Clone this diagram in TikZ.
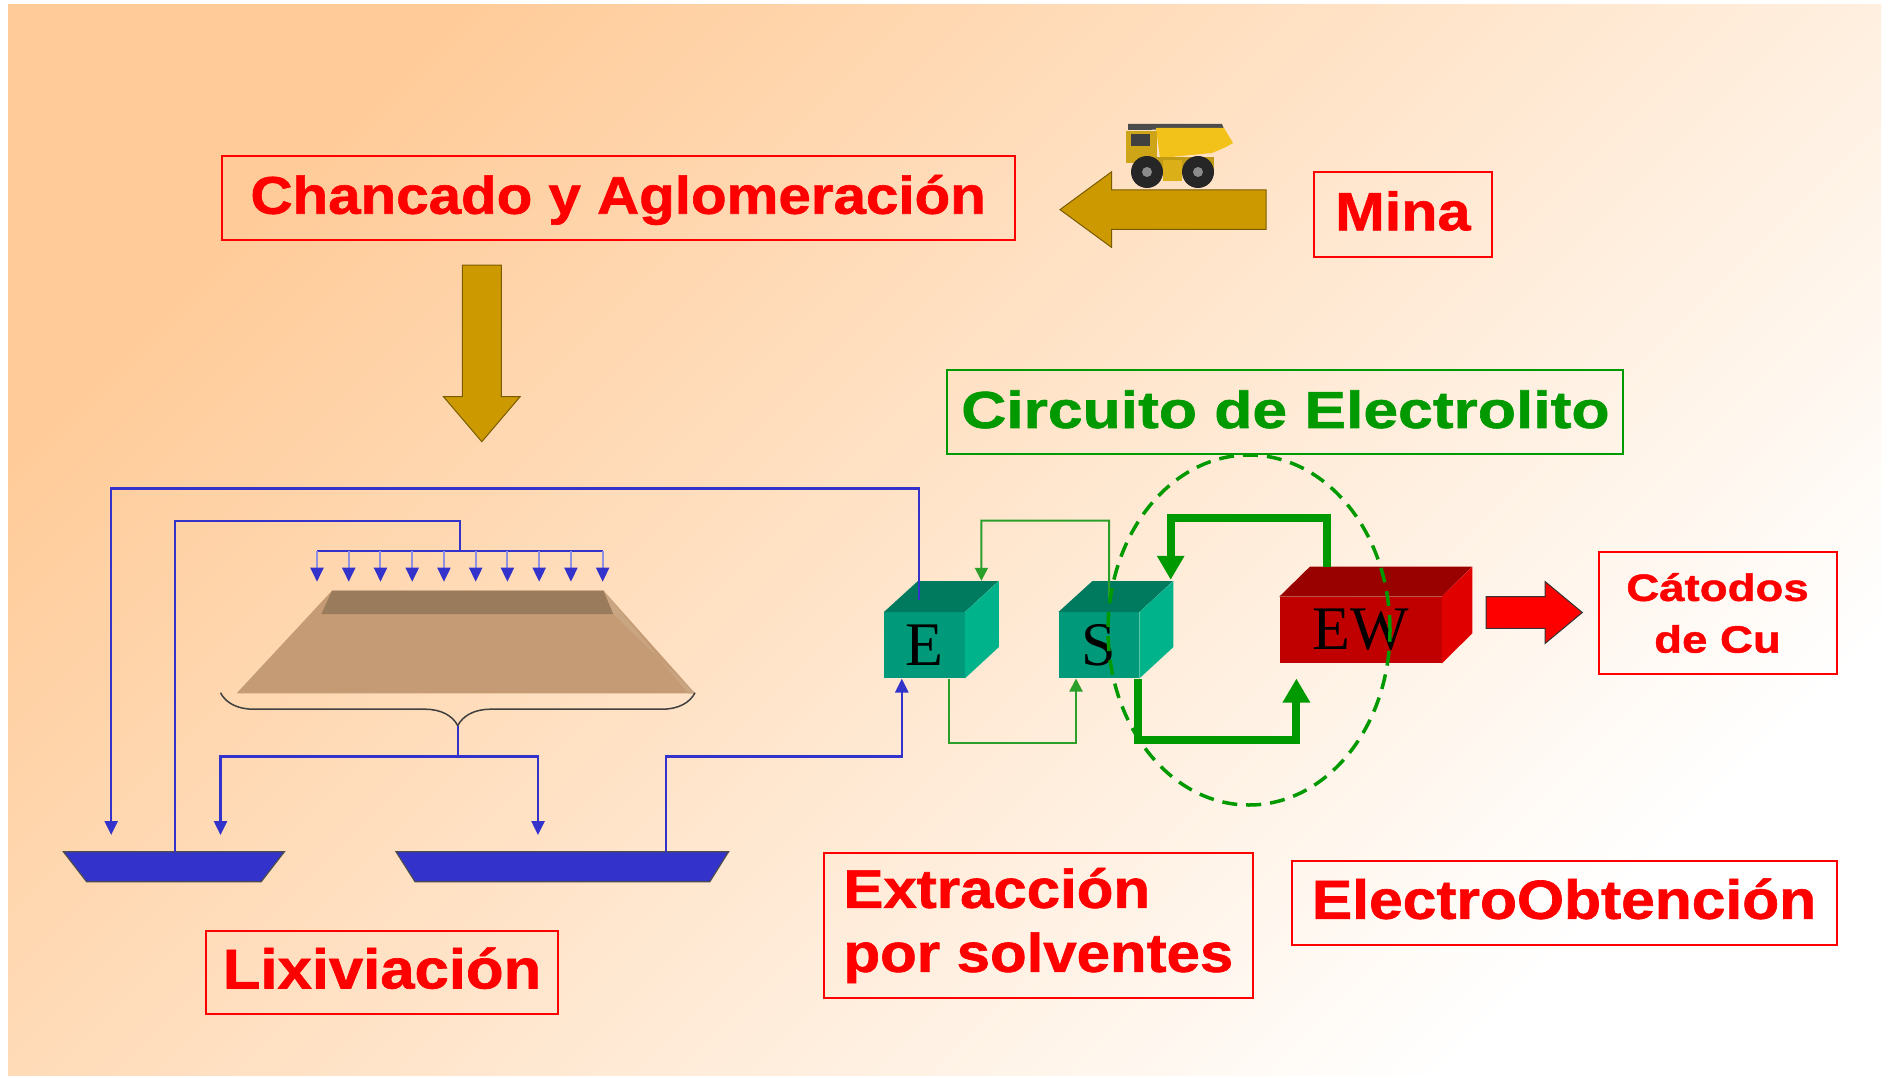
\documentclass[tikz,border=0pt]{standalone}
\usepackage{fontspec}
\usetikzlibrary{arrows.meta,decorations.pathreplacing}
\newfontfamily\boxfont{Liberation Sans}[FakeStretch=1.1,BoldFeatures={FakeBold=1.2}]
\newfontfamily\widefont{Liberation Sans}[FakeStretch=1.2,BoldFeatures={FakeBold=1.2}]
\newfontfamily\cubefont{Liberation Serif}
\definecolor{rojo}{HTML}{FF0000}
\definecolor{verde}{HTML}{009900}
\definecolor{verdeclaro}{HTML}{2A9F2A}
\definecolor{azul}{HTML}{3333CC}
\definecolor{oro}{HTML}{CC9900}
\definecolor{orobrd}{HTML}{7A5C00}
\definecolor{durazno}{HTML}{FFCB98}
\definecolor{fondoM}{HTML}{FFE5CE}
\definecolor{tealF}{HTML}{00997A}
\definecolor{tealT}{HTML}{007A5F}
\definecolor{tealR}{HTML}{00B38A}
\definecolor{ewF}{HTML}{C00000}
\definecolor{ewT}{HTML}{990000}
\definecolor{ewR}{HTML}{E00000}
\definecolor{tierra}{HTML}{C49B74}
\definecolor{tierraT}{HTML}{9A7B5C}
\definecolor{amarillo}{HTML}{F2C21B}
\begin{document}
\begin{tikzpicture}[x=1pt,y=-1pt,
    caja/.style={draw=rojo,line width=2pt,text=rojo,inner sep=0pt,font=\boxfont\bfseries\fontsize{54}{64}\selectfont},
    linea/.style={text height=38pt,text depth=6.5pt},
    cubo/.style={rectangle,fill=tealF,inner sep=0pt,minimum width=80.6pt,minimum height=66pt,font=\cubefont\fontsize{62}{62}\selectfont},
    flujo/.style={azul,line width=2.5pt,-{Triangle[length=14pt,width=13pt]}},
    delgado/.style={verdeclaro,line width=2pt,-{Triangle[length=13pt,width=13pt]}},
    grueso/.style={verde,line width=8pt,-{Triangle[length=24pt,width=26pt]}}]
  % fondo
  \fill[white] (0,0) rectangle (1889,1078);
  \shade[top color=durazno,middle color=fondoM,bottom color=white,shading angle=45] (8,5) rectangle (1881,1075);
  \useasboundingbox (0,0) rectangle (1889,1078);
  % cajas
  \node[caja,linea,font=\boxfont\bfseries\fontsize{53}{64}\selectfont,minimum width=793pt,minimum height=84pt] (chancado) at (618.2,198) {Chancado y Aglomeración};
  \node[caja,linea,minimum width=178pt,minimum height=84pt] (mina) at (1402.9,214.5) {Mina};
  \node[caja,linea,draw=verde,text=verde,font=\widefont\bfseries\fontsize{52}{64}\selectfont,minimum width=676pt,minimum height=84pt] (circuito) at (1285.4,412.2) {Circuito de Electrolito};
  \node[caja,align=center,font=\widefont\bfseries\fontsize{38}{51.7}\selectfont,minimum width=238pt,minimum height=122.6pt] (catodos) at (1717.5,613) {Cátodos\\de Cu};
  \node[caja,linea,font=\boxfont\bfseries\fontsize{56}{64}\selectfont,minimum width=352pt,minimum height=83pt] (lixiviacion) at (382,972.7) {Lixiviación};
  \node[caja,align=left,font=\boxfont\bfseries\fontsize{54.5}{64}\selectfont,minimum width=429pt,minimum height=145.6pt] (extraccion) at (1038.4,925.5) {Extracción\\por solventes};
  \node[caja,linea,font=\boxfont\bfseries\fontsize{55}{64}\selectfont,minimum width=545pt,minimum height=84.6pt] (electro) at (1564,903) {ElectroObtención};
  % flechas anchas
  \filldraw[fill=oro,draw=orobrd,line width=1pt] (1266,190)--(1111.7,190)--(1111.7,171.7)--(1060,209.6)--(1111.7,247.5)--(1111.7,229.3)--(1266,229.3)--cycle;
  \filldraw[fill=oro,draw=orobrd,line width=1pt] (462.3,265)--(462.3,396.7)--(443.5,396.7)--(481.8,441.7)--(520.1,396.7)--(501.4,396.7)--(501.4,265)--cycle;
  % camion
  \fill[black!70] (1128,124)--(1222,124)--(1224,129)--(1128,130)--cycle;
  \fill[amarillo] (1156,128)--(1224,128)--(1233,143)--(1226,147)--(1212,153)--(1160,158)--cycle;
  \fill[amarillo!85!black] (1126,131) rectangle (1157,163);
  \fill[black!75] (1131,134) rectangle (1150,146);
  \fill[amarillo!80!black] (1138,157) rectangle (1214,172);
  \fill[amarillo!90!black] (1163,160) rectangle (1182,181);
  \foreach \w in {1147,1198}{
    \fill[black!85] (\w,172) circle (16pt);
    \fill[black!45] (\w,172) circle (5pt);
  }
  % pila de lixiviacion
  \fill[tierra] (236.6,693.3)--(332,590.7)--(603.6,590.7)--(695,693.3)--cycle;
  \fill[tierraT] (332,590.7)--(603.6,590.7)--(613.4,614)--(321.4,614)--cycle;
  \fill[tierra!90!white] (603.6,590.7)--(613.4,614)--(695,693.3)--(688,693.3)--cycle;
  \draw[black!75,line width=1.5pt,decorate,decoration={brace,amplitude=33pt}] (695,692.7)--(220.5,692.7);
  \coordinate (llave) at (457.8,726);
  \coordinate (reparto) at (457.8,756.7);
  % piscinas
  \filldraw[fill=azul,draw=black!70,line width=1.2pt] (63.4,851.7)--(284.4,851.7)--(261.2,881.7)--(86.6,881.7)--cycle;
  \filldraw[fill=azul,draw=black!70,line width=1.2pt] (396,851.7)--(728.6,851.7)--(709.8,881.7)--(415,881.7)--cycle;
  \coordinate (entraA) at (111.2,835);
  \coordinate (saleA) at (175,851.7);
  \coordinate (entraA2) at (220.5,835);
  \coordinate (entraB) at (538,835);
  \coordinate (saleB) at (666,851.7);
  \coordinate (riego) at (459.8,551);
  % cubos E, S y EW
  \foreach \n/\x in {E/924.3,S/1098.8}{
    \node[cubo] (\n) at (\x,645.3) {\n};
    \fill[tealT] (\n.north west)--++(34,-31)--++(80.6,0)--(\n.north east)--cycle;
    \fill[tealR] (\n.north east)--++(34,-31)--++(0,66)--(\n.south east)--cycle;
  }
  \node[cubo,fill=ewF,minimum width=162pt,minimum height=66.6pt] (EW) at (1360.65,630) {EW};
  \fill[ewT] (EW.north west)--++(30.6,-30)--++(162,0)--(EW.north east)--cycle;
  \fill[ewR] (EW.north east)--++(30.6,-30)--++(0,66.6)--(EW.south east)--cycle;
  % riego
  \draw[azul,line width=2.5pt] (317,551)--(602.7,551);
  \foreach \i in {0,...,9}
    \draw[azul!55,line width=2pt,-{Triangle[length=14pt,width=13pt,color=azul]}] (317+31.74*\i,551)--(317+31.74*\i,581.7);
  % circuito azul
  \draw[flujo] ([xshift=-5.4pt,yshift=12.3pt]E.north) |- (111.2,488.3) -- (entraA);
  \draw[azul,line width=2.5pt] (saleA) -- (175,521) -| (riego);
  \draw[azul,line width=2.5pt] (llave) -- (reparto);
  \draw[flujo] (reparto) -| (entraA2);
  \draw[flujo] (reparto) -| (entraB);
  \draw[flujo] (saleB) -- (666,756.7) -| ([xshift=-22.5pt]E.south);
  % circuito verde
  \draw[delgado] ([xshift=10.2pt,yshift=14pt]S.north) -- (1109,520.7) -- (981.4,520.7) -- ([xshift=57.1pt,yshift=31.3pt]E.north);
  \draw[delgado] ([xshift=25pt]E.south) -- ++(0,64) -| ([xshift=-22.8pt]S.south);
  \draw[grueso] ([xshift=39pt]S.south) -- ++(0,61.7) -| ([xshift=-64.25pt,yshift=-15pt]EW.south);
  \draw[grueso] ([xshift=-33.6pt,yshift=30pt]EW.north) -- ++(0,-48.4) -| ([xshift=71.9pt,yshift=32.3pt]S.north);
  \draw[verde,line width=3.5pt,dash pattern=on 15pt off 9pt] (1249,630) ellipse [x radius=141pt,y radius=175pt];
  % flecha roja
  \filldraw[fill=rojo,draw=black!80,line width=1pt] (1486,596.7)--(1545,596.7)--(1545,581.5)--(1582.3,612.5)--(1545,643.5)--(1545,628.3)--(1486,628.3)--cycle;
\end{tikzpicture}
\end{document}
